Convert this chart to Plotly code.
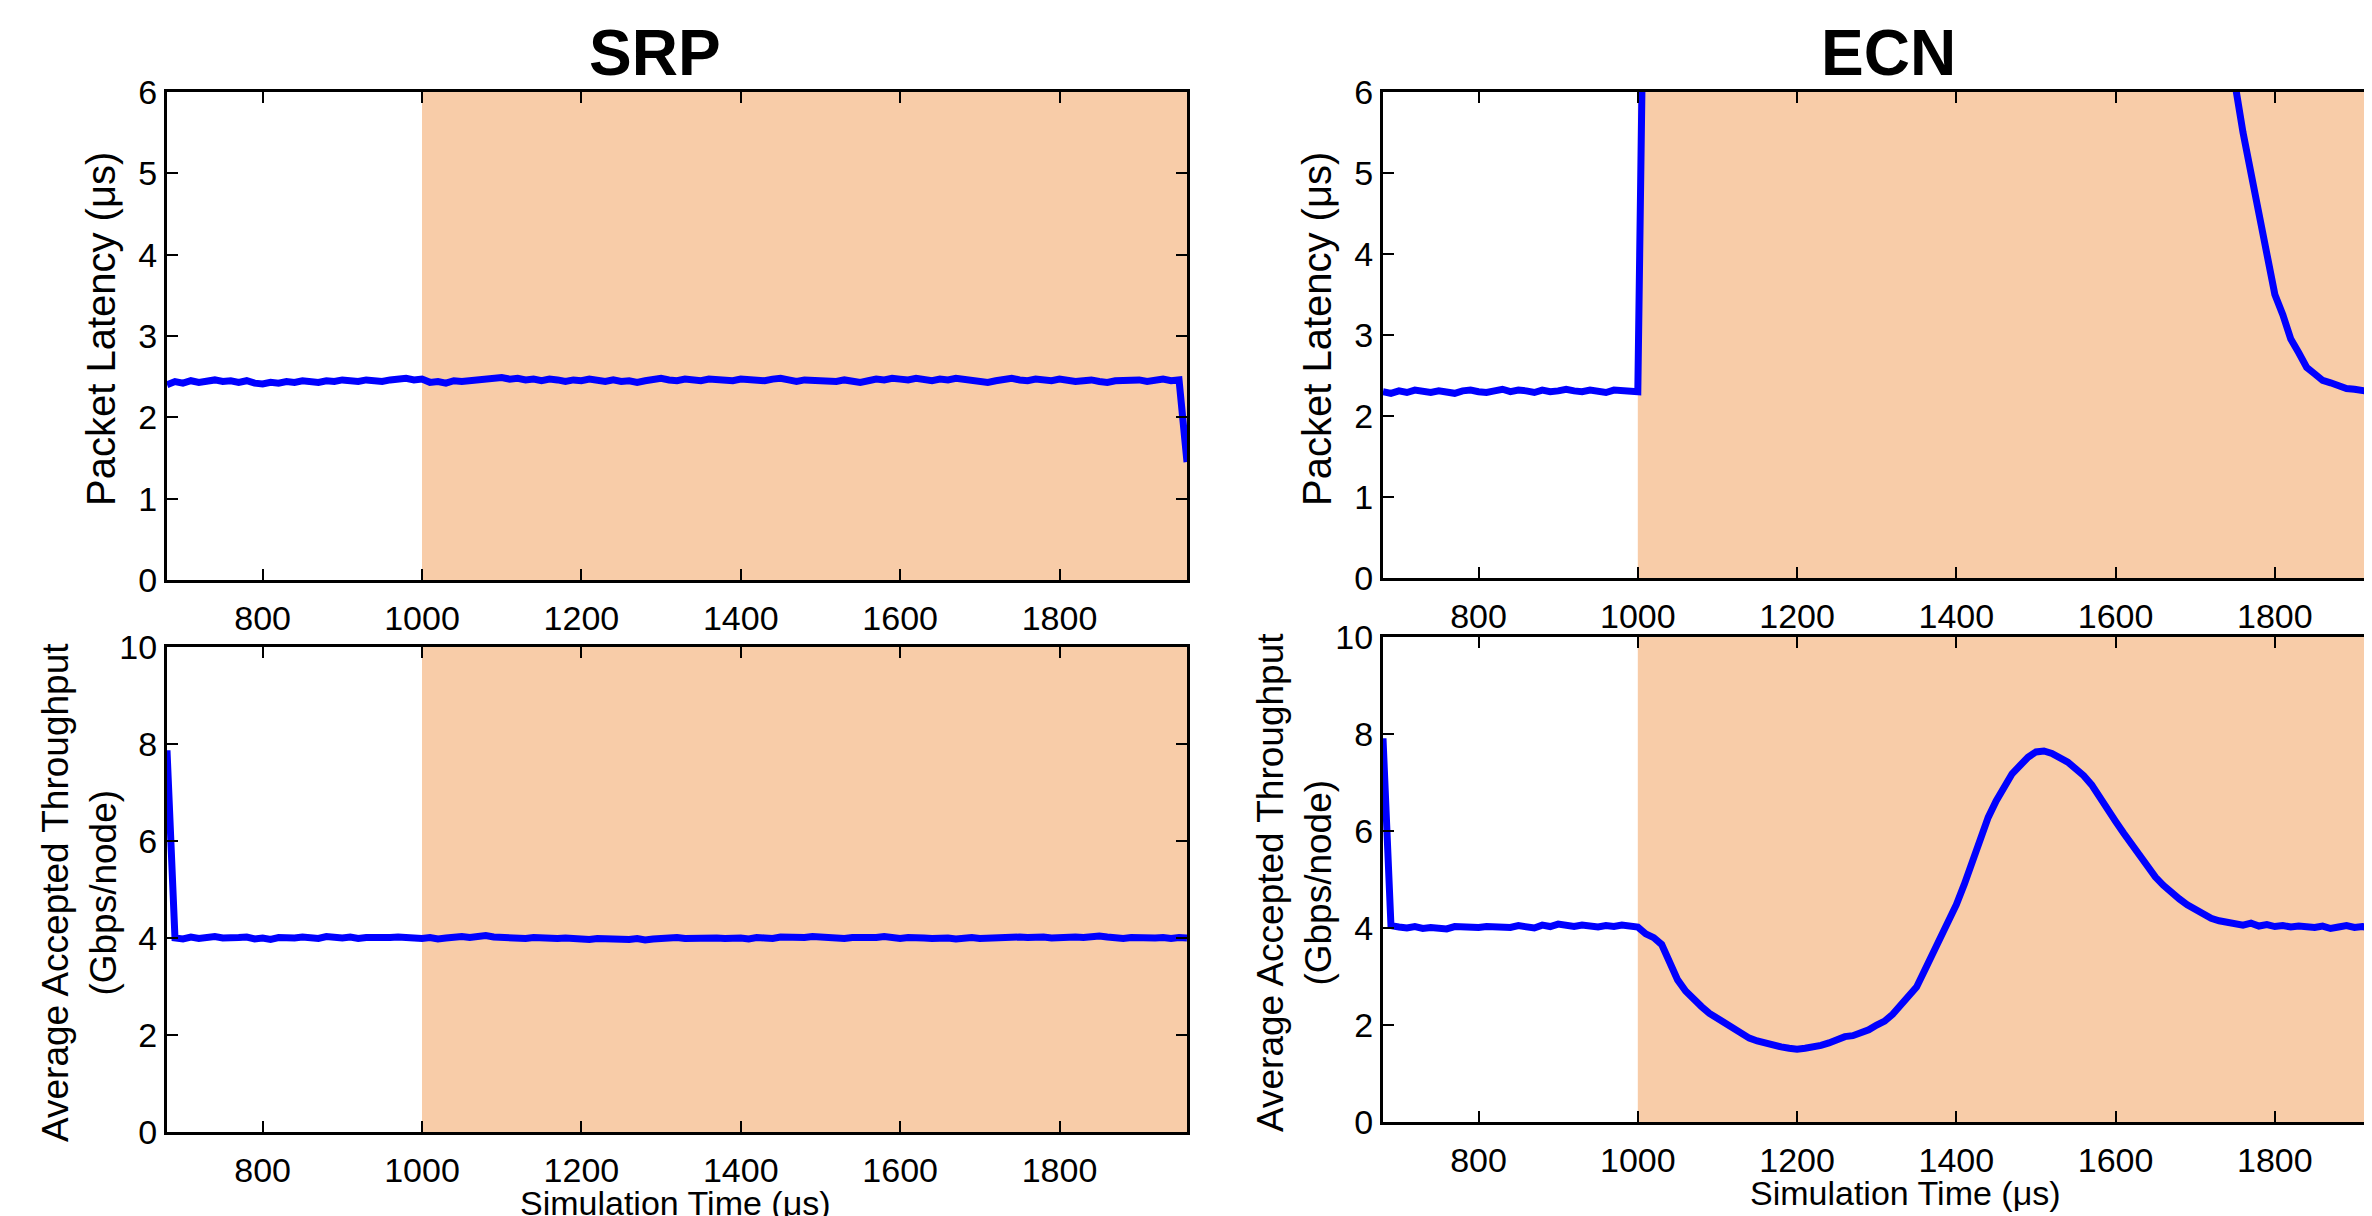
import plotly.graph_objects as go

# ---- data ----
time_us = list(range(680, 1961, 10))   # simulation time, 10 us samples

srp_latency = [
    2.40, 2.44, 2.42, 2.45, 2.43, 2.44, 2.46, 2.44, 2.45, 2.43,
    2.45, 2.42, 2.41, 2.43, 2.42, 2.44, 2.43, 2.45, 2.44, 2.43,
    2.45, 2.44, 2.46, 2.45, 2.44, 2.46, 2.45, 2.44, 2.46, 2.47,
    2.48, 2.46, 2.47, 2.43, 2.44, 2.42, 2.45, 2.44, 2.45, 2.47,
    2.46, 2.48, 2.49, 2.47, 2.48, 2.46, 2.47, 2.45, 2.47, 2.46,
    2.44, 2.46, 2.45, 2.47, 2.45, 2.44, 2.46, 2.44, 2.45, 2.43,
    2.45, 2.47, 2.48, 2.46, 2.45, 2.47, 2.46, 2.45, 2.47, 2.46,
    2.44, 2.45, 2.47, 2.46, 2.44, 2.45, 2.47, 2.48, 2.46, 2.44,
    2.46, 2.45, 2.46, 2.45, 2.44, 2.46, 2.44, 2.43, 2.45, 2.47,
    2.46, 2.48, 2.47, 2.46, 2.48, 2.47, 2.45, 2.47, 2.46, 2.48,
    2.47, 2.45, 2.44, 2.43, 2.45, 2.46, 2.48, 2.46, 2.45, 2.47,
    2.46, 2.45, 2.47, 2.45, 2.44, 2.45, 2.46, 2.44, 2.43, 2.45,
    2.46, 2.47, 2.46, 2.44, 2.45, 2.47, 2.45, 2.46, 1.45,
]

srp_throughput = [
    7.87, 4.00, 3.98, 4.02, 3.99, 4.01, 4.03, 4.00, 3.99, 4.01,
    4.02, 3.98, 4.00, 3.97, 4.01, 3.99, 4.00, 4.02, 4.01, 3.99,
    4.03, 4.01, 4.00, 4.02, 3.99, 4.01, 4.00, 3.99, 4.01, 4.02,
    4.00, 3.98, 3.99, 4.01, 3.98, 4.00, 4.02, 4.03, 4.01, 4.04,
    4.05, 4.02, 4.01, 4.03, 4.00, 3.99, 4.01, 4.00, 3.98, 3.99,
    4.00, 3.98, 3.99, 3.97, 3.99, 3.98, 3.96, 3.98, 3.97, 3.99,
    3.96, 3.98, 4.00, 3.99, 4.01, 3.99, 4.00, 4.01, 4.02, 4.00,
    3.99, 4.01, 4.00, 3.98, 4.01, 4.00, 3.99, 4.02, 4.01, 4.00,
    4.01, 4.03, 4.02, 4.00, 4.01, 3.99, 4.01, 4.00, 4.02, 4.01,
    4.03, 4.00, 3.99, 4.01, 4.02, 4.00, 3.99, 4.01, 4.00, 3.98,
    4.00, 4.01, 3.99, 4.00, 4.02, 4.01, 4.03, 4.02, 4.01, 4.03,
    4.02, 4.00, 4.01, 4.03, 4.02, 4.01, 4.03, 4.04, 4.02, 4.00,
    3.99, 4.01, 4.00, 3.98, 4.00, 4.01, 3.99, 4.01, 4.00,
]

# values above 6 us run off the top of the axis
ecn_latency = [
    2.30, 2.28, 2.31, 2.29, 2.32, 2.30, 2.29, 2.31, 2.30, 2.28,
    2.31, 2.32, 2.30, 2.29, 2.31, 2.33, 2.30, 2.32, 2.31, 2.29,
    2.32, 2.30, 2.31, 2.33, 2.31, 2.30, 2.32, 2.31, 2.29, 2.32,
    2.31, 2.30, 2.30, 9.5, 14.0, 18.0, 21.5, 24.5, 27.0, 29.0,
    30.5, 31.5, 32.0, 32.5, 32.5, 32.0, 31.5, 31.0, 30.0, 29.0,
    28.0, 27.0, 26.0, 25.0, 24.0, 23.0, 22.0, 21.0, 20.0, 19.0,
    18.0, 17.0, 16.0, 15.0, 14.0, 13.0, 12.5, 12.0, 11.5, 11.0,
    10.5, 10.0, 9.6, 9.2, 8.9, 8.6, 8.3, 8.0, 7.8, 7.6,
    7.5, 7.4, 7.3, 7.2, 7.1, 7.0, 6.9, 6.9, 6.8, 6.8,
    6.7, 6.7, 6.6, 6.6, 6.6, 6.5, 6.5, 6.5, 6.4, 6.4,
    6.4, 6.3, 6.3, 6.3, 6.2, 6.2, 6.1, 6.1, 5.5, 5.0,
    4.4, 4.0, 3.5, 3.25, 2.95, 2.78, 2.60, 2.52, 2.44, 2.41,
    2.37, 2.34, 2.33, 2.31, 2.30, 2.31, 2.29, 2.30, 2.30,
]

ecn_throughput = [
    7.91, 4.05, 4.02, 4.00, 4.03, 3.99, 4.01, 4.00, 3.98, 4.03,
    4.02, 4.04, 4.01, 4.03, 4.02, 4.04, 4.01, 4.05, 4.03, 4.00,
    4.06, 4.03, 4.08, 4.05, 4.03, 4.06, 4.04, 4.02, 4.05, 4.03,
    4.06, 4.04, 4.02, 3.88, 3.80, 3.66, 3.25, 2.93, 2.70, 2.52,
    2.38, 2.24, 2.13, 2.02, 1.92, 1.82, 1.73, 1.67, 1.62, 1.58,
    1.55, 1.52, 1.50, 1.52, 1.54, 1.58, 1.63, 1.70, 1.76, 1.78,
    1.83, 1.90, 2.00, 2.08, 2.22, 2.42, 2.60, 2.78, 3.12, 3.45,
    3.75, 4.10, 4.48, 4.90, 5.38, 5.85, 6.28, 6.62, 6.92, 7.18,
    7.35, 7.52, 7.63, 7.65, 7.60, 7.52, 7.42, 7.28, 7.14, 6.95,
    6.68, 6.44, 6.20, 5.96, 5.72, 5.48, 5.27, 5.05, 4.88, 4.72,
    4.60, 4.48, 4.38, 4.30, 4.20, 4.15, 4.13, 4.08, 4.06, 4.10,
    4.04, 4.07, 4.03, 4.05, 4.02, 4.04, 4.03, 4.01, 4.04, 3.99,
    4.02, 4.05, 4.01, 4.03, 4.00, 4.02, 4.01, 4.03, 4.02,
]

x_ticks = [800, 1000, 1200, 1400, 1600, 1800]
congestion_start = 1000
srp_xrange = [680, 1960]
ecn_xrange = [680, 1922]   # right part of the ECN panel is cut off in the original

# page body has an 8px margin, so the figure is drawn 8px in from the window corner
PAGE_PAD = 8
W, H = 2372 - PAGE_PAD, 1216 - PAGE_PAD
FONT = "Liberation Sans, Arial, Helvetica, sans-serif"
BLUE = "#0000FF"
SHADE = "#F8CCA8"


def fx(px):
    return (px - PAGE_PAD) / W


def fy(py):
    return 1 - (py - PAGE_PAD) / H


fig = go.Figure()

# panels: (xaxis, yaxis, x px range, y px range, series, y range, dtick, x range, mirror y)
panels = [
    ("x", "y", (167, 1187), (92, 580), srp_latency, [0, 6], 1, srp_xrange, "ticks"),
    ("x2", "y2", (167, 1187), (647, 1132), srp_throughput, [0, 10], 2, srp_xrange, "ticks"),
    ("x3", "y3", (1383, 2372), (92, 578), ecn_latency, [0, 6], 1, ecn_xrange, False),
    ("x4", "y4", (1383, 2372), (637, 1122), ecn_throughput, [0, 10], 2, ecn_xrange, False),
]

layout_axes = {}
for xa, ya, (px0, px1), (py0, py1), ys, yr, dt, xr, ymirror in panels:
    fig.add_trace(go.Scatter(
        x=time_us, y=ys, xaxis=xa, yaxis=ya,
        mode="lines", line=dict(color=BLUE, width=7),
        showlegend=False, hoverinfo="skip",
    ))
    xkey = "xaxis" + xa[1:]
    ykey = "yaxis" + ya[1:]
    common = dict(
        showline=True, linecolor="black", linewidth=3,
        ticks="inside", ticklen=11, tickwidth=2, tickcolor="black",
        showgrid=False, zeroline=False, automargin=False,
        tickfont=dict(family=FONT, size=34, color="black"),
    )
    layout_axes[xkey] = dict(
        common, domain=[fx(px0), min(fx(px1), 1)], range=xr,
        tickvals=x_ticks, mirror="ticks", anchor=ya, ticklabelstandoff=6,
    )
    layout_axes[ykey] = dict(
        common, domain=[fy(py1), fy(py0)], range=yr,
        dtick=dt, mirror=ymirror, anchor=xa,
    )
    # congestion period shading
    fig.add_shape(
        type="rect", xref=xa, yref=ya + " domain",
        x0=congestion_start, x1=xr[1], y0=0, y1=1,
        fillcolor=SHADE, line=dict(width=0), layer="below",
    )

fig.update_layout(**layout_axes)

annotations = [
    # panel titles
    dict(text="<b>SRP</b>", x=655, y=53, size=64, angle=0),
    dict(text="<b>ECN</b>", x=1888, y=53, size=64, angle=0),
    # y-axis titles
    dict(text="Packet Latency (μs)", x=101, y=329, size=40, angle=-90),
    dict(text="Average Accepted Throughput<br>(Gbps/node)", x=79, y=893, size=37, angle=-90),
    dict(text="Packet Latency (μs)", x=1317, y=329, size=40, angle=-90),
    dict(text="Average Accepted Throughput<br>(Gbps/node)", x=1295, y=883, size=37, angle=-90),
    # x-axis titles
    dict(text="Simulation Time (μs)", x=675, y=1203, size=34, angle=0),
    dict(text="Simulation Time (μs)", x=1905, y=1193, size=34, angle=0),
]
for a in annotations:
    fig.add_annotation(
        text=a["text"], xref="paper", yref="paper",
        x=fx(a["x"]), y=fy(a["y"]),
        xanchor="center", yanchor="middle",
        textangle=a["angle"], showarrow=False,
        font=dict(family=FONT, size=a["size"], color="black"),
    )

fig.update_layout(
    width=W, height=H,
    margin=dict(l=0, r=0, t=0, b=0, autoexpand=False),
    paper_bgcolor="white", plot_bgcolor="white",
    font=dict(family=FONT, color="black"),
    showlegend=False,
)

fig.write_html("out.html")
